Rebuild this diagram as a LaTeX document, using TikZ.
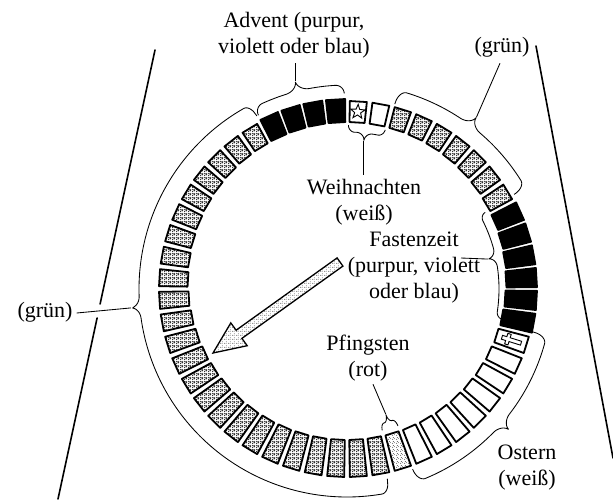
\documentclass[tikz,border=0pt]{standalone}
\usepackage{fontspec}
\setmainfont{Liberation Serif}
\usetikzlibrary{patterns,calc,shapes.geometric}

% stipple tiles for the shaded weeks and the arrow
\pgfdeclarepatternformonly{stipdark}{\pgfpointorigin}{\pgfpoint{4pt}{4pt}}{\pgfpoint{4pt}{4pt}}{%
  \pgfpathcircle{\pgfpoint{0.7pt}{0.8pt}}{0.68pt}%
  \pgfpathcircle{\pgfpoint{2.6pt}{1.2pt}}{0.66pt}%
  \pgfpathcircle{\pgfpoint{1.5pt}{2.6pt}}{0.66pt}%
  \pgfpathcircle{\pgfpoint{3.3pt}{3.2pt}}{0.64pt}%
  \pgfpathcircle{\pgfpoint{3.4pt}{1.9pt}}{0.52pt}%
  \pgfpathcircle{\pgfpoint{0.7pt}{3.3pt}}{0.58pt}%
  \pgfusepath{fill}}
\pgfdeclarepatternformonly{stiplight}{\pgfpointorigin}{\pgfpoint{4pt}{4pt}}{\pgfpoint{4pt}{4pt}}{%
  \pgfpathcircle{\pgfpoint{0.8pt}{0.9pt}}{0.5pt}%
  \pgfpathcircle{\pgfpoint{2.8pt}{1.6pt}}{0.45pt}%
  \pgfpathcircle{\pgfpoint{1.6pt}{3.0pt}}{0.5pt}%
  \pgfusepath{fill}}
\pgfdeclarepatternformonly{stipfaint}{\pgfpointorigin}{\pgfpoint{4pt}{4pt}}{\pgfpoint{4pt}{4pt}}{%
  \pgfpathcircle{\pgfpoint{0.8pt}{0.9pt}}{0.48pt}%
  \pgfpathcircle{\pgfpoint{2.9pt}{2.7pt}}{0.48pt}%
  \pgfpathcircle{\pgfpoint{2.7pt}{0.6pt}}{0.35pt}%
  \pgfusepath{fill}}

% curly bracket running round the ring centre C:
% from, to, tip angle (clockwise from top), arm radius, end radius, tip radius, end spread, tip spread
\newcommand\ringbrace[8]{%
  \draw[bracket,shift={(C)}] plot[domain=#1:#2,samples=600,variable=\t]
    ({\t-90}:{#4-(#4-(#5))*bf((\t-(#1))/#7)-(#4-(#5))*bf(((#2)-\t)/#7)+((#6)-#4)*bf(abs(\t-(#3))/#8)});}

\begin{document}
\begin{tikzpicture}[x=1pt,y=-1pt,
  seg/.style={draw=black,line width=1.8pt,line join=round},
  seggreen/.style={seg,pattern=stipdark},
  segblack/.style={seg,fill=black},
  segwhite/.style={seg,fill=white},
  segred/.style={seg,pattern=stiplight},
  bracket/.style={draw=black,line width=0.85pt,line join=round},
  pointer/.style={draw=black,line width=0.85pt},
  sideline/.style={draw=black,line width=1.6pt,line cap=round},
  arrowbody/.style={draw=black,line width=1.3pt,line join=miter,pattern=stipfaint},
  lbl/.style={font=\fontsize{22}{26}\selectfont,align=center,inner sep=0pt},
  declare function={bf(\q)=1-sqrt(max(0,1-(1-min(\q,1))*(1-min(\q,1))));}
]
\fill[white] (0,0) rectangle (613,499);
\useasboundingbox (0,0) rectangle (613,499);

\coordinate (C) at (347,289);

% the 52 weeks of the year
\foreach \k in {0,...,51}{
  \pgfmathsetmacro\th{3.46+6.923*\k}
  \pgfmathsetmacro\rin{159+8*cos(\th)}
  \def\segsty{seggreen}\def\hw{2.6}\def\rout{188}
  \ifnum\k<2 \def\segsty{segwhite}\fi
  \ifnum\k>8 \ifnum\k<15 \def\segsty{segblack}\def\hw{2.9}\def\rout{190}\fi\fi
  \ifnum\k>14 \ifnum\k<23 \def\segsty{segwhite}\fi\fi
  \ifnum\k=23 \def\segsty{segred}\fi
  \ifnum\k>47 \def\segsty{segblack}\def\hw{2.9}\def\rout{190}\fi
  \draw[\segsty,shift={(C)}] ({\th-90-\hw}:\rout) -- ({\th-90+\hw}:\rout)
     -- ({\th-90+\hw}:\rin) -- ({\th-90-\hw}:\rin) -- cycle;
}

% Christmas star and Easter cross
\path[shift={(C)}] ({3.46-90}:177.5) coordinate (starpos)
                   ({107.3-90}:172.3) coordinate (crosspos);
\node[star,star points=5,star point ratio=2.4,draw,line width=0.9pt,
      minimum size=15pt,inner sep=0pt,rotate=-3.5] (xmasstar) at (starpos) {};
\draw[line width=0.9pt,line join=miter,shift={(crosspos)},rotate=-17.3]
  (-10,-2) -- (-5.5,-2) -- (-5.5,-5.5) -- (-2,-5.5) -- (-2,-2) -- (10,-2)
  -- (10,2) -- (-2,2) -- (-2,5.5) -- (-5.5,5.5) -- (-5.5,2) -- (-10,2) -- cycle;

% brackets round the seasons
\ringbrace{-27}{-0.8}{-14}{204}{195}{214}{2.5}{3.5}
\ringbrace{14.5}{60.5}{37}{205}{191}{215}{2.5}{3.5}
\ringbrace{103}{160}{131}{205}{191}{215}{2.5}{3.5}
\ringbrace{168}{332.5}{265}{208}{194}{217}{2.3}{3}
\ringbrace{0.5}{13.5}{6.5}{157}{164}{149}{2.2}{3}
\ringbrace{61}{101}{78}{152}{158}{144}{2.5}{3.5}
\ringbrace{159.6}{166}{162.8}{139}{146}{131}{1.4}{1.7}

\path[shift={(C)}]
  ({-14-90}:214) coordinate (tipAdv)
  ({37-90}:215) coordinate (tipGR)
  ({265-90}:217) coordinate (tipGL)
  ({6.5-90}:149) coordinate (tipW)
  ({78-90}:144) coordinate (tipF)
  ({162.8-90}:131) coordinate (tipP);

% labels
\node[lbl] (adv) at (294,35) {Advent (purpur,\\violett oder blau)};
\node[lbl] (gruenR) at (502,47) {(grün)};
\node[lbl] (weih) at (364,202) {Weihnachten\\(weiß)};
\node[lbl] (fast) at (414,268) {Fastenzeit\\(purpur, violett\\oder blau)};
\node[lbl] (pfing) at (368,358) {Pfingsten\\(rot)};
\node[lbl] (ost) at (527,468) {Ostern\\(weiß)};
\node[lbl] (gruenL) at (45,312) {(grün)};

% leader lines
\coordinate (advfoot) at ($(tipAdv |- adv.south)+(0,5)$);
\coordinate (gruenRfoot) at ($(gruenR.south)+(-2,6)$);
\coordinate (weihtop) at ($(tipW |- weih.north)+(0,-4)$);
\coordinate (fastend) at (461,258);
\coordinate (pfingfoot) at ($(pfing.south)+(5,3)$);
\coordinate (gruenLend) at ($(gruenL.east)+(4,1)$);
\draw[pointer] (tipAdv) -- (advfoot);
\draw[pointer] (tipGR) -- (gruenRfoot);
\draw[pointer] (tipW) -- (weihtop);
\draw[pointer] (fastend) -- (tipF);
\draw[pointer] (pfingfoot) -- (tipP);
\draw[pointer] (gruenLend) -- (tipGL);

% central arrow
\coordinate (tailA) at (337.1,257.9);
\coordinate (neckA) at (236.1,330.2);
\coordinate (wingA) at (230.8,322.9);
\coordinate (tip) at (213,353);
\coordinate (wingB) at (247.2,345.7);
\coordinate (neckB) at (241.9,338.4);
\coordinate (tailB) at (342.9,266.1);
\draw[arrowbody] (tailA) -- (neckA) -- (wingA) -- (tip) -- (wingB) -- (neckB) -- (tailB) -- cycle;

% the two side lines
\coordinate (L1) at (155,50);
\coordinate (L2) at (100.1,304);
\coordinate (L3) at (97.1,318);
\coordinate (L4) at (58,499);
\coordinate (R1) at (536,46);
\coordinate (R2) at (613,458);
\draw[sideline] (L1) -- (L2);
\draw[sideline] (L3) -- (L4);
\draw[sideline] (R1) -- (R2);
\end{tikzpicture}
\end{document}
